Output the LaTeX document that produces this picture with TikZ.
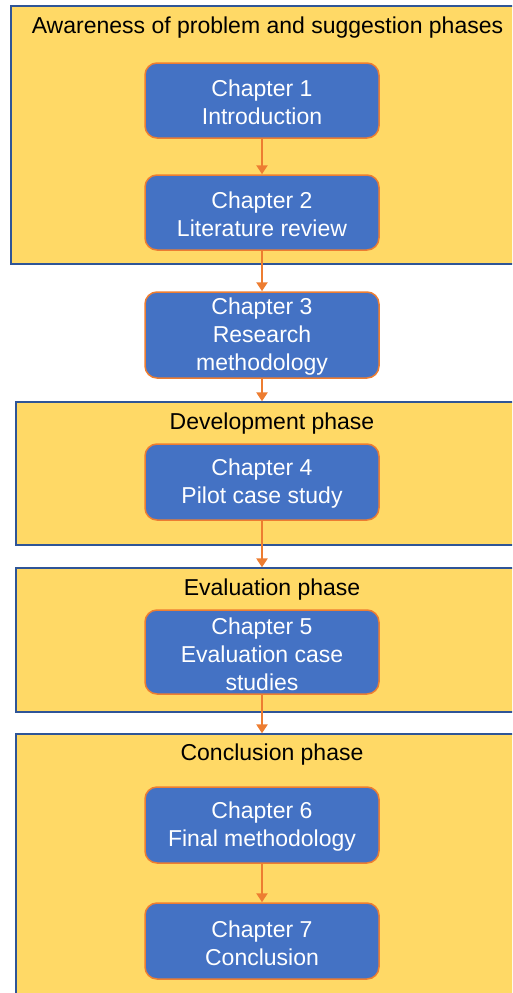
\documentclass[tikz,border=0pt]{standalone}
\usepackage{fontspec}
\setmainfont{Liberation Sans}
\usetikzlibrary{arrows.meta}
\definecolor{phasefill}{HTML}{FFD966}
\definecolor{phaseline}{HTML}{2F5597}
\definecolor{chapfill}{HTML}{4472C4}
\definecolor{chapline}{HTML}{ED7D31}
\tikzset{
  phasebox/.style={draw=phaseline, fill=phasefill, line width=1.3pt, inner sep=0pt},
  chapbox/.style={draw=chapline, fill=chapfill, line width=1.5pt, rounded corners=12pt,
    minimum width=234pt, inner sep=0pt},
  chaptext/.style={inner sep=0pt, align=center, text=white,
    font=\fontsize{23}{28}\selectfont},
  phasetitle/.style={anchor=base, inner sep=0pt, font=\fontsize{23}{28}\selectfont},
  flow/.style={draw=chapline, line width=2.6pt, -{Triangle[width=11pt,length=9pt]}}
}
\begin{document}
\begin{tikzpicture}[x=1pt,y=-1pt]
\useasboundingbox (0,0) rectangle (512,993);
\begin{scope}
\clip (0,0) rectangle (512,993);
% phase frames
\node[phasebox, minimum width=513pt, minimum height=258pt] (f1) at (267.5,135) {};
\node[phasebox, minimum width=512pt, minimum height=143pt] (f2) at (272,473.5) {};
\node[phasebox, minimum width=512pt, minimum height=144pt] (f3) at (272,640) {};
\node[phasebox, minimum width=512pt, minimum height=276pt] (f4) at (272,872) {};
\end{scope}
% phase titles
\node[phasetitle] (t1) at (267.5,33) {Awareness of problem and suggestion phases};
\node[phasetitle] (t2) at (272,429) {Development phase};
\node[phasetitle] (t3) at (272,595) {Evaluation phase};
\node[phasetitle] (t4) at (272,760) {Conclusion phase};
% chapter boxes, with their captions set slightly below centre
\node[chapbox, minimum height=75pt] (c1) at (262,100.5) {};
\node[chaptext] (c1t) at ([yshift=-2pt]c1.center) {Chapter 1\\Introduction};
\node[chapbox, minimum height=75pt] (c2) at (262,212.5) {};
\node[chaptext] (c2t) at ([yshift=-2pt]c2.center) {Chapter 2\\Literature review};
\node[chapbox, minimum height=86pt] (c3) at (262,335) {};
\node[chaptext] (c3t) at ([yshift=-2pt]c3.center) {Chapter 3\\Research\\methodology};
\node[chapbox, minimum height=76pt] (c4) at (262,482) {};
\node[chaptext] (c4t) at ([yshift=-2pt]c4.center) {Chapter 4\\Pilot case study};
\node[chapbox, minimum height=84pt] (c5) at (262,652) {};
\node[chaptext] (c5t) at ([yshift=-2pt]c5.center) {Chapter 5\\Evaluation case\\studies};
\node[chapbox, minimum height=76pt] (c6) at (262,825) {};
\node[chaptext] (c6t) at ([yshift=-2pt]c6.center) {Chapter 6\\Final methodology};
\node[chapbox, minimum height=76pt] (c7) at (262,941) {};
\node[chaptext] (c7t) at ([yshift=-2pt]c7.center) {Chapter 7\\Conclusion};
% connectors
\draw[flow] (c1.south) -- (c2.north);
\draw[flow] (c2.south) -- (c3.north);
\draw[flow] (c3.south) -- (c3.south |- f2.north);
\draw[flow] (c4.south) -- (c4.south |- f3.north);
\draw[flow] (c5.south) -- (c5.south |- f4.north);
\draw[flow] (c6.south) -- (c7.north);
\end{tikzpicture}
\end{document}
